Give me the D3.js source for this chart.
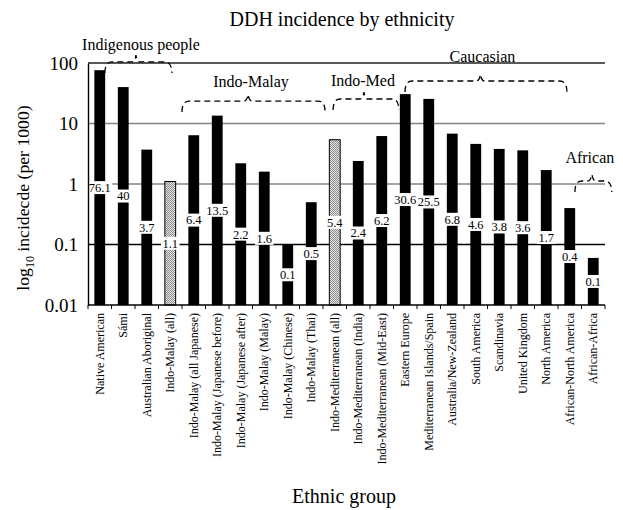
<!DOCTYPE html>
<html>
<head>
<meta charset="utf-8">
<script src="https://cdn.jsdelivr.net/npm/d3@7"></script>
<style>
  body { margin: 0; background: #fff; }
  svg, svg text { font-family: "Liberation Serif", "Times New Roman", Times, "DejaVu Serif", serif !important; }
</style>
</head>
<body>
<svg id="chart" width="623" height="510" font-family="Liberation Serif, Times New Roman, serif"></svg>
<script>
// DDH incidence (per 1000 births) by ethnic group, log scale
const categories = [
  "Native American", "Sámi", "Australian Aboriginal", "Indo-Malay (all)",
  "Indo-Malay (all Japanese)", "Indo-Malay (Japanese before)", "Indo-Malay (Japanese after)",
  "Indo-Malay (Malay)", "Indo-Malay (Chinese)", "Indo-Malay (Thai)",
  "Indo-Mediterranean (all)", "Indo-Mediterranean (India)", "Indo-Mediterranean (Mid-East)",
  "Eastern Europe", "Mediterranean Islands/Spain", "Australia/New-Zealand",
  "South America", "Scandinavia", "United Kingdom", "North America",
  "African-North America", "African-Africa"
];
const incidence = [
  76.1, 40, 3.7, 1.1,
  6.4, 13.5, 2.2,
  1.6, 0.1, 0.5,
  5.4, 2.4, 6.2,
  30.6, 25.5, 6.8,
  4.6, 3.8, 3.6, 1.7,
  0.4, 0.06
];
// pooled ("all") rows are drawn with a stippled fill
const pooled = [
  false, false, false, true,
  false, false, false,
  false, false, false,
  true, false, false,
  false, false, false,
  false, false, false, false,
  false, false
];
const yTicks = [0.01, 0.1, 1, 10, 100];

// ethnic groupings shown as dashed braces above the bars
const groupNames = ["Indigenous people", "Indo-Malay", "Indo-Med", "Caucasian", "African"];
const groupFrom  = [0.22, 3.5, 9.93, 12.99, 20.22];   // category index where brace starts
const groupTo    = [3.07, 9.59, 12.73, 19.88, 21.79]; // category index where brace ends
const groupTip   = [1.54, 6.31, 11.24, 16.2, 20.94];  // category index of the brace point
const groupLevel = [104, 23.5, 25.4, 50.4, 1.12];     // incidence level of the brace line

const SERIF = "'Liberation Serif', 'Times New Roman', Times, 'DejaVu Serif', serif";
const W = 623, H = 510;
const margin = { left: 88, right: 18, top: 63, bottom: 205 };
const svg = d3.select("#chart");

const x = d3.scaleBand()
  .domain(categories)
  .range([margin.left, W - margin.right])
  .paddingInner(0.54)
  .paddingOuter(0.27);

const y = d3.scaleLog()
  .domain([0.01, 100])
  .range([H - margin.bottom, margin.top]);

// centre of a (fractional) category index
const xAt = i => x.range()[0] + x.step() * (i + 0.5);

// stipple pattern for pooled bars
const defs = svg.append("defs");
const pat = defs.append("pattern")
  .attr("id", "stipple")
  .attr("width", 2).attr("height", 2)
  .attr("patternUnits", "userSpaceOnUse");
pat.append("rect").attr("width", 2).attr("height", 2).attr("fill", "#e6e6e6");
pat.append("rect").attr("x", 0).attr("y", 0).attr("width", 1).attr("height", 1).attr("fill", "#8a8a8a");
pat.append("rect").attr("x", 1).attr("y", 1).attr("width", 1).attr("height", 1).attr("fill", "#8a8a8a");

// horizontal gridlines at each decade
const gridColor = d => (d === 0.1 ? "#000" : d === 100 ? "#222" : "#858585");
svg.append("g").selectAll("line")
  .data(yTicks.filter(d => d > 0.01))
  .join("line")
  .attr("x1", x.range()[0]).attr("x2", x.range()[1])
  .attr("y1", d => y(d)).attr("y2", d => y(d))
  .attr("stroke", gridColor)
  .attr("stroke-width", 1.4);

// bars
const rows = categories.map((c, i) => ({ c, v: incidence[i], pooled: pooled[i] }));
svg.append("g").selectAll("rect")
  .data(rows)
  .join("rect")
  .attr("x", d => x(d.c))
  .attr("width", x.bandwidth())
  .attr("y", d => y(d.v))
  .attr("height", d => y.range()[0] - y(d.v))
  .attr("fill", d => d.pooled ? "url(#stipple)" : "#000")
  .attr("stroke", d => d.pooled ? "#000" : "none")
  .attr("stroke-width", 1);

// value labels on white boxes, centred vertically in each bar
const fmt = v => { const s = d3.format(".1f")(v); return s.endsWith(".0") ? s.slice(0, -2) : s; };
const labels = svg.append("g").selectAll("g")
  .data(rows)
  .join("g")
  .attr("transform", d => `translate(${x(d.c) + x.bandwidth() / 2},${(y(d.v) + y.range()[0]) / 2})`);
labels.append("text")
  .attr("text-anchor", "middle")
  .attr("dy", "0.35em")
  .style("font-family", SERIF)
  .style("font-size", "12.5px")
  .text(d => fmt(d.v));
labels.each(function () {
  const g = d3.select(this);
  const bb = g.select("text").node().getBBox();
  g.insert("rect", "text")
    .attr("x", bb.x - 1.5).attr("y", -6.5)
    .attr("width", bb.width + 3).attr("height", 13)
    .attr("fill", "#fff");
});

// y axis
const yAxis = svg.append("g")
  .attr("transform", `translate(${x.range()[0]},0)`)
  .call(d3.axisLeft(y).tickValues(yTicks).tickFormat(d => String(d)).tickSize(0).tickPadding(10));
yAxis.attr("font-family", null);
yAxis.select(".domain").attr("stroke", "#000").attr("stroke-width", 1.4);
yAxis.selectAll("text").style("font-size", "19px").style("font-family", SERIF);

// x axis baseline and boundary ticks
const base = y.range()[0];
svg.append("line")
  .attr("x1", x.range()[0]).attr("x2", x.range()[1])
  .attr("y1", base).attr("y2", base)
  .attr("stroke", "#000").attr("stroke-width", 1.4);
svg.append("g").selectAll("line")
  .data(d3.range(categories.length + 1))
  .join("line")
  .attr("x1", k => x.range()[0] + k * x.step())
  .attr("x2", k => x.range()[0] + k * x.step())
  .attr("y1", base).attr("y2", base + 4)
  .attr("stroke", "#000").attr("stroke-width", 1);

// category labels, rotated
svg.append("g").selectAll("text")
  .data(categories)
  .join("text")
  .attr("transform", c => `translate(${x(c) + x.bandwidth() / 2},${base + 8}) rotate(-90)`)
  .attr("text-anchor", "end")
  .attr("dy", "0.35em")
  .style("font-family", SERIF)
  .style("font-size", "12px")
  .text(c => c);

// group braces
const braceDrop = 11, tipRise = 7;
const labelLift = [5, 7, 6, 12, 11];
const labelShift = [5, 3, -1, 2, -2];
groupNames.forEach((name, i) => {
  const x0 = xAt(groupFrom[i]), x1 = xAt(groupTo[i]), xt = xAt(groupTip[i]);
  const yl = y(groupLevel[i]);
  const p = d3.path();
  p.moveTo(x0, yl + braceDrop);
  p.quadraticCurveTo(x0, yl, x0 + 7, yl);
  p.lineTo(xt - 4, yl);
  p.quadraticCurveTo(xt - 1, yl, xt, yl - tipRise);
  p.quadraticCurveTo(xt + 1, yl, xt + 4, yl);
  p.lineTo(x1 - 7, yl);
  p.quadraticCurveTo(x1, yl, x1, yl + braceDrop);
  svg.append("path")
    .attr("d", p.toString())
    .attr("fill", "none")
    .attr("stroke", "#000")
    .attr("stroke-width", 1.3)
    .attr("stroke-dasharray", "6,4");
  svg.append("text")
    .attr("x", xt + labelShift[i])
    .attr("y", yl - tipRise - labelLift[i])
    .attr("text-anchor", "middle")
    .style("font-family", SERIF)
    .style("font-size", "16px")
    .text(name);
});

// title and axis titles
svg.append("text")
  .attr("x", 342).attr("y", 26)
  .attr("text-anchor", "middle")
  .style("font-family", SERIF)
  .style("font-size", "20px")
  .text("DDH incidence by ethnicity");

svg.append("text")
  .attr("x", 344).attr("y", 503)
  .attr("text-anchor", "middle")
  .style("font-family", SERIF)
  .style("font-size", "20px")
  .text("Ethnic group");

const yTitle = svg.append("text")
  .attr("transform", `translate(29,${(y.range()[0] + y.range()[1]) / 2 + 14}) rotate(-90)`)
  .attr("text-anchor", "middle")
  .style("font-family", SERIF)
  .style("font-size", "17.7px");
yTitle.append("tspan").text("log");
yTitle.append("tspan").attr("dy", 5).style("font-size", "12px").text("10");
yTitle.append("tspan").attr("dy", -5).text(" incidecde (per 1000)");
</script>
</body>
</html>
